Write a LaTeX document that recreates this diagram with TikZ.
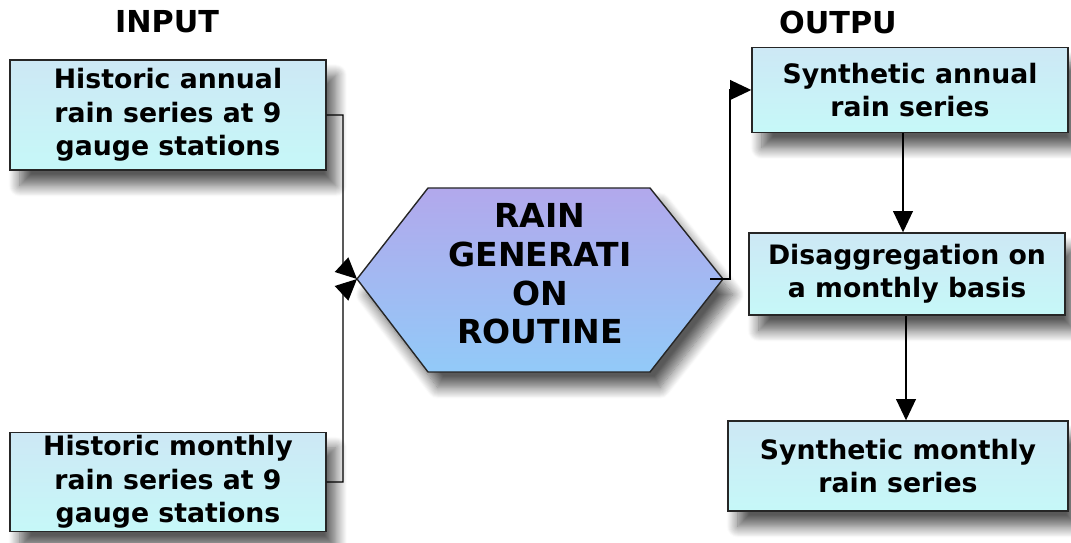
\documentclass[tikz,border=0pt]{standalone}
\usepackage{fontspec}
\setmainfont{DejaVu Sans}
\usetikzlibrary{arrows.meta,shadows.blur}

\definecolor{boxtop}{HTML}{CDE8F5}
\definecolor{boxbot}{HTML}{C6F8F8}
\definecolor{hextop}{HTML}{B2A8EC}
\definecolor{hexbot}{HTML}{92CAF8}

\begin{document}
\begin{tikzpicture}[x=0.025cm, y=-0.025cm,
    softshadow/.style={blur shadow={shadow xshift=7pt, shadow yshift=-11pt, shadow blur radius=8pt,
        shadow blur steps=12, shadow opacity=65}},
    rainbox/.style={draw=black!85, line width=1pt, top color=boxtop, bottom color=boxbot, softshadow,
        align=center, inner sep=0pt, font=\bfseries\fontsize{19}{23.8}\selectfont},
    heading/.style={font=\bfseries\fontsize{21.5}{24}\selectfont},
    link/.style={line width=1pt, -{Triangle[length=15pt,width=14pt,fill=black]}}]

    \useasboundingbox (0,0) rectangle (1071,543);

    % Column headings
    \node[heading] (inhead) at (167,22) {INPUT};
    \node[heading] (outhead) at (838,22) {OUTPU};

    % Input boxes
    \node[rainbox, minimum width=316*0.025cm, minimum height=110*0.025cm] (annualin) at (168,115)
        {Historic annual\\rain series at 9\\gauge stations};
    \node[rainbox, minimum width=316*0.025cm, minimum height=99*0.025cm] (monthlyin) at (168,482)
        {Historic monthly\\rain series at 9\\gauge stations};

    % The routine (hexagon)
    \coordinate (hexW) at (357,279);
    \coordinate (hexE) at (723,279);
    \path[draw=black!85, line width=1pt, top color=hextop, bottom color=hexbot, softshadow]
        (hexW) -- (428,188) -- (650,188) -- (hexE) -- (650,372) -- (428,372) -- cycle;
    \node[align=center, font=\bfseries\fontsize{23.5}{27.5}\selectfont] (routine) at (540,274)
        {RAIN\\GENERATI\\ON\\ROUTINE};

    % Output boxes
    \node[rainbox, minimum width=316*0.025cm, minimum height=85*0.025cm] (annualout) at (910,90)
        {Synthetic annual\\rain series};
    \node[rainbox, minimum width=316*0.025cm, minimum height=82*0.025cm] (disagg) at (907,274)
        {Disaggregation on\\a monthly basis};
    \node[rainbox, minimum width=340*0.025cm, minimum height=90*0.025cm] (monthlyout) at (898,466)
        {Synthetic monthly\\rain series};

    % Inputs into the routine
    \coordinate (inbendA) at (343,266);
    \coordinate (inbendB) at (343,292);
    \draw[link] (annualin.east) -| (inbendA) -- (hexW);
    \draw[link] (monthlyin.east) -| (inbendB) -- (hexW);

    % Routine out to the annual series
    \coordinate (outbend) at (730,279);
    \draw[link] (710,279) -- (outbend) |- (annualout.west);

    % Down the output column
    \draw[link] (annualout.south -| 903,0) -- (disagg.north -| 903,0);
    \draw[link] (disagg.south -| 906,0) -- (monthlyout.north -| 906,0);

\end{tikzpicture}
\end{document}
